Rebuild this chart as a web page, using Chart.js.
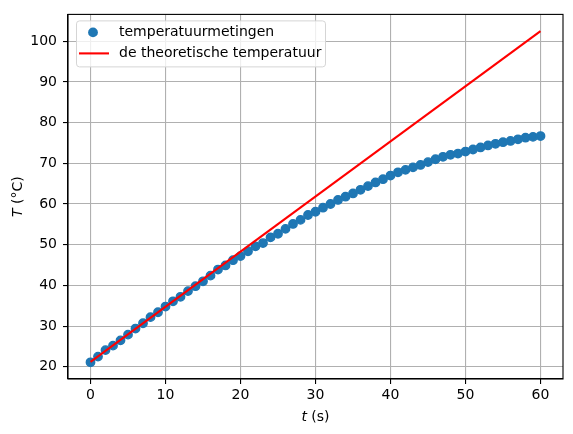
<!DOCTYPE html>
<html>
<head>
<meta charset="utf-8">
<script src="https://cdn.jsdelivr.net/npm/chart.js@4.4.1/dist/chart.umd.min.js"></script>
<style>
  html, body { margin: 0; padding: 0; background: #fff; }
  #wrap { width: 573px; height: 434px; }
</style>
</head>
<body>
<div id="wrap"><canvas id="chart" width="573" height="434"></canvas></div>
<script>
// measured temperature, one reading per second
const times = [
  0, 1, 2, 3, 4, 5, 6, 7, 8, 9,
  10, 11, 12, 13, 14, 15, 16, 17, 18, 19,
  20, 21, 22, 23, 24, 25, 26, 27, 28, 29,
  30, 31, 32, 33, 34, 35, 36, 37, 38, 39,
  40, 41, 42, 43, 44, 45, 46, 47, 48, 49,
  50, 51, 52, 53, 54, 55, 56, 57, 58, 59, 60
];
const measured = [
  21.1, 22.5, 24.1, 25.2, 26.5, 27.9, 29.4, 30.7, 32.2, 33.4,
  34.8, 36.1, 37.2, 38.6, 39.8, 41.0, 42.4, 43.9, 44.9, 46.2,
  47.2, 48.4, 49.6, 50.4, 51.8, 52.7, 53.9, 55.1, 56.1, 57.3,
  58.1, 59.1, 60.0, 61.0, 61.8, 62.6, 63.5, 64.4, 65.3, 66.1,
  67.0, 67.8, 68.4, 69.0, 69.6, 70.3, 71.0, 71.6, 72.1, 72.4,
  72.9, 73.4, 73.9, 74.4, 74.8, 75.2, 75.5, 75.9, 76.3, 76.5, 76.7
];

// theoretical (straight) line, start and end
const theoryTimes = [0, 60];
const theory = [21.2, 102.5];

const xTicks = [0, 10, 20, 30, 40, 50, 60];
const yTicks = [20, 30, 40, 50, 60, 70, 80, 90, 100];

const labelMeasured = 'temperatuurmetingen';
const labelTheory = 'de theoretische temperatuur';

const FONT = '"DejaVu Sans", sans-serif';
const BLUE = '#1f77b4';
const RED = '#ff0000';

// legend box + full frame + axis titles with italic symbols
const extras = {
  id: 'extras',
  afterDraw(chart) {
    const c = chart.ctx;
    const a = chart.chartArea;

    // frame on all four sides
    c.save();
    c.strokeStyle = '#000';
    c.lineWidth = 1.1;
    c.strokeRect(a.left, a.top, a.right - a.left, a.bottom - a.top);
    c.restore();

    // legend
    const lx = a.left + 8, ly = a.top + 6, lw = 249, lh = 46, r = 3;
    c.save();
    c.fillStyle = 'rgba(255,255,255,0.8)';
    c.strokeStyle = '#d5d5d5';
    c.lineWidth = 1;
    c.beginPath();
    c.roundRect(lx + 0.5, ly + 0.5, lw, lh, r);
    c.fill();
    c.stroke();

    c.fillStyle = BLUE;
    c.beginPath();
    c.arc(lx + 17, ly + 12, 4.9, 0, Math.PI * 2);
    c.fill();

    c.strokeStyle = RED;
    c.lineWidth = 2.1;
    c.beginPath();
    c.moveTo(lx + 3, ly + 33);
    c.lineTo(lx + 33, ly + 33);
    c.stroke();

    c.fillStyle = '#000';
    c.font = '14px ' + FONT;
    c.textBaseline = 'middle';
    c.textAlign = 'left';
    c.fillText(labelMeasured, lx + 43, ly + 12);
    c.fillText(labelTheory, lx + 43, ly + 33);
    c.restore();

    // x title: t (s)
    c.save();
    c.fillStyle = '#000';
    c.textBaseline = 'middle';
    c.textAlign = 'left';
    const italic = 'italic 14px ' + FONT;
    const plain = '14px ' + FONT;
    c.font = italic;
    const wt = c.measureText('t').width;
    c.font = plain;
    const ws = c.measureText(' (s)').width;
    let x0 = (a.left + a.right) / 2 - (wt + ws) / 2;
    c.font = italic;
    c.fillText('t', x0, 417);
    c.font = plain;
    c.fillText(' (s)', x0 + wt, 417);

    // y title: T (°C), rotated
    c.translate(18, (a.top + a.bottom) / 2);
    c.rotate(-Math.PI / 2);
    c.font = italic;
    const wT = c.measureText('T').width;
    c.font = plain;
    const wc = c.measureText(' (°C)').width;
    x0 = -(wT + wc) / 2;
    c.font = italic;
    c.fillText('T', x0, 0);
    c.font = plain;
    c.fillText(' (°C)', x0 + wT, 0);
    c.restore();
  }
};

const ctx = document.getElementById('chart').getContext('2d');

new Chart(ctx, {
  type: 'scatter',
  data: {
    datasets: [
      {
        label: labelTheory,
        type: 'line',
        data: theoryTimes.map((t, i) => ({ x: t, y: theory[i] })),
        borderColor: RED,
        borderWidth: 2.1,
        pointRadius: 0,
        fill: false,
        order: 1
      },
      {
        label: labelMeasured,
        data: times.map((t, i) => ({ x: t, y: measured[i] })),
        backgroundColor: BLUE,
        borderColor: BLUE,
        borderWidth: 1.4,
        pointRadius: 4.2,
        order: 2
      }
    ]
  },
  options: {
    animation: false,
    responsive: false,
    devicePixelRatio: 1,
    layout: { padding: { left: 0, right: 10, top: 10, bottom: 0 } },
    scales: {
      x: {
        type: 'linear',
        min: -3,
        max: 63,
        afterBuildTicks(scale) { scale.ticks = xTicks.map(v => ({ value: v })); },
        afterFit(scale) { scale.height = 55; },
        grid: { color: '#b0b0b0', lineWidth: 1.1, tickColor: '#000', tickLength: 5 },
        border: { color: '#000', width: 1.1 },
        ticks: { color: '#000', font: { family: FONT, size: 14 }, padding: 3, maxRotation: 0 }
      },
      y: {
        type: 'linear',
        min: 17.0,
        max: 106.6,
        afterBuildTicks(scale) { scale.ticks = yTicks.map(v => ({ value: v })); },
        afterFit(scale) { scale.width = 68; },
        grid: { color: '#b0b0b0', lineWidth: 1.1, tickColor: '#000', tickLength: 5 },
        border: { color: '#000', width: 1.1 },
        ticks: { color: '#000', font: { family: FONT, size: 14 }, padding: 6 }
      }
    },
    plugins: {
      legend: { display: false },
      tooltip: { enabled: false }
    }
  },
  plugins: [extras]
});
</script>
</body>
</html>
